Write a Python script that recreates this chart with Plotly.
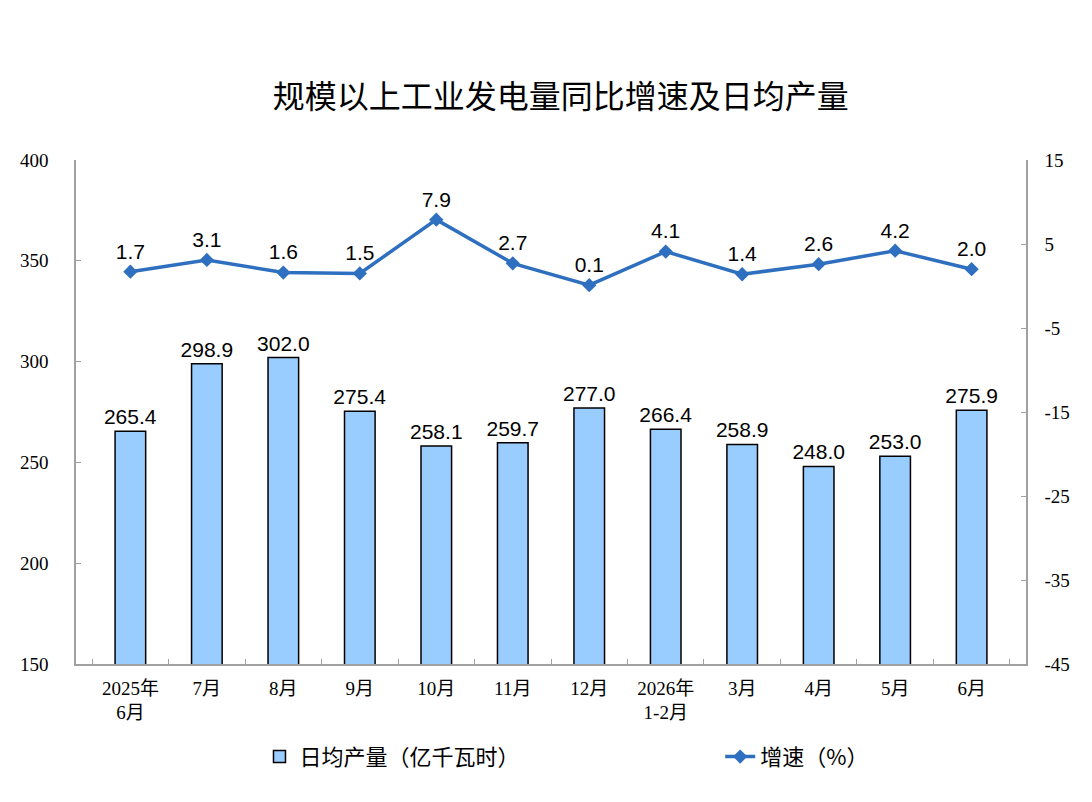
import plotly.graph_objects as go

months = ['2025年<br>6月', '7月', '8月', '9月', '10月', '11月', '12月',
          '2026年<br>1-2月', '3月', '4月', '5月', '6月']
daily_output = [265.4, 298.9, 302.0, 275.4, 258.1, 259.7, 277.0, 266.4, 258.9, 248.0, 253.0, 275.9]
growth = [1.7, 3.1, 1.6, 1.5, 7.9, 2.7, 0.1, 4.1, 1.4, 2.6, 4.2, 2.0]
right_ticks = [-45, -35, -25, -15, -5, 5, 15]

label_font = dict(family='Liberation Sans, Arial', size=21, color='black')
tick_font = dict(family='Liberation Serif, Times New Roman', size=19, color='black')
cat_font = dict(family='Liberation Serif, Noto Sans CJK SC', size=19, color='black')
legend_font = dict(family='Noto Sans CJK SC', size=22, color='black')

fig = go.Figure()

fig.add_trace(go.Bar(
    x=months, y=daily_output,
    name='日均产量（亿千瓦时）',
    legend='legend',
    marker=dict(color='#99CCFF', line=dict(color='black', width=1.5)),
    width=0.4,
    text=[f'{v:.1f}' for v in daily_output],
    textposition='outside',
    textfont=label_font,
    constraintext='none',
    cliponaxis=False,
))

fig.add_trace(go.Scatter(
    x=months, y=growth,
    name='增速（%）',
    legend='legend2',
    yaxis='y2',
    mode='lines+markers+text',
    line=dict(color='#2F6FBF', width=3.5),
    marker=dict(symbol='diamond', size=11, color='#2F6FBF'),
    text=[f'{v:.1f}' for v in growth],
    textposition='top center',
    textfont=label_font,
    cliponaxis=False,
))

# page body has an 8px margin, so the figure is 8px smaller than the window
fig.update_layout(
    width=1084, height=794,
    paper_bgcolor='white', plot_bgcolor='white',
    margin=dict(l=68, r=66, t=152, b=138),
    title=dict(text='规模以上工业发电量同比增速及日均产量',
               x=0.51, xanchor='center', y=0.888, yanchor='middle',
               font=dict(family='Noto Sans CJK SC', size=32, color='black')),
    showlegend=True,
    legend=dict(orientation='h', xref='container', yref='container',
                x=0.232, xanchor='left', y=0.057, yanchor='middle',
                font=legend_font),
    legend2=dict(orientation='h', xref='container', yref='container',
                 x=0.657, xanchor='left', y=0.057, yanchor='middle',
                 font=legend_font),
    xaxis=dict(
        showline=True, linecolor='#A0A0A0', linewidth=1.5,
        ticks='inside', tickson='boundaries', ticklen=5, tickcolor='#A0A0A0',
        tickfont=cat_font, showgrid=False, automargin=False,
        ticklabelstandoff=6,
    ),
    yaxis=dict(
        range=[150, 400], dtick=50, showgrid=False,
        showline=True, linecolor='#A0A0A0', linewidth=1.5,
        ticks='inside', ticklen=5, tickcolor='#A0A0A0',
        tickfont=tick_font, zeroline=False, automargin=False,
        ticklabelstandoff=22,
    ),
    yaxis2=dict(
        range=[-45, 15], tickvals=right_ticks, ticktext=[str(t) for t in right_ticks],
        overlaying='y', side='right', showgrid=False,
        showline=True, linecolor='#A0A0A0', linewidth=1.5,
        ticks='inside', ticklen=5, tickcolor='#A0A0A0',
        tickfont=tick_font, zeroline=False, automargin=False,
        ticklabelstandoff=13,
    ),
)

fig.write_html('out.html')
